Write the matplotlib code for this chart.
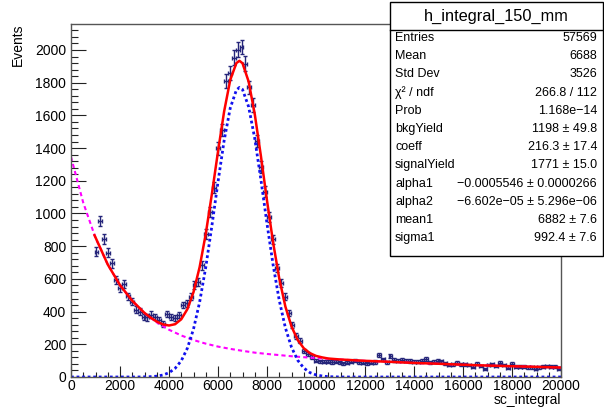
import numpy as np
import matplotlib
matplotlib.use('Agg')
import matplotlib.pyplot as plt
from matplotlib.patches import Rectangle
from matplotlib.lines import Line2D
from matplotlib.ticker import MultipleLocator

plt.rcParams['font.family'] = ['Liberation Sans', 'DejaVu Sans']

# histogram: 160-wide bins, fit range starts at 960
bin_width = 160
bin_centers = np.arange(1040, 20000, bin_width)
counts = [
    766, 953, 843, 760, 695, 593, 542, 569, 493, 461,
    412, 400, 365, 364, 382, 365, 351, 326, 384, 367,
    359, 379, 440, 450, 491, 563, 583, 683, 874, 1008,
    1159, 1398, 1510, 1812, 1857, 1954, 2002, 2018, 1917, 1771,
    1663, 1445, 1286, 1133, 978, 842, 665, 577, 491, 393,
    318, 251, 222, 161, 139, 124, 100, 96, 94, 94,
    92, 94, 90, 84, 88, 94, 100, 92, 86, 84,
    88, 92, 135, 108, 90, 128, 104, 100, 104, 100,
    98, 94, 94, 98, 110, 90, 94, 100, 96, 84,
    73, 77, 88, 77, 77, 73, 63, 80, 67, 47,
    73, 77, 67, 88, 73, 57, 80, 63, 63, 63,
    59, 59, 51, 59, 63, 67, 63, 63, 47,
]

# background component (magenta)
bkg_x = [0, 500, 1000, 1500, 2000, 2500, 3000, 3500, 4000, 4500, 5000,
         5500, 6000, 6500, 7000, 7500, 8000, 8500, 9000, 9500, 10000,
         11000, 12000, 13000, 14000, 15000, 16000, 17000, 18000, 19000, 20000]
bkg_y = [1346, 1066, 851, 688, 562, 466, 391, 334, 289, 254, 226,
         204, 186, 172, 160, 149, 141, 134, 127, 121, 116,
         107, 99, 93, 86, 81, 75, 70, 66, 62, 58]

# signal component (blue)
sig_x = [0, 2750, 3000, 3250, 3500, 3750, 4000, 4250, 4500, 4750, 5000,
         5250, 5500, 5750, 6000, 6250, 6500, 6750, 6875, 7000, 7250,
         7500, 7750, 8000, 8250, 8500, 8750, 9000, 9250, 9500, 9750,
         10000, 10250, 10500, 10750, 11000, 20000]
sig_y = [0, 0, 1, 2, 5, 12, 26, 53, 99, 176, 293,
         458, 671, 924, 1193, 1446, 1645, 1755, 1771, 1759, 1653,
         1459, 1208, 938, 685, 469, 301, 182, 103, 55, 27,
         13, 6, 2, 1, 0, 0]

# total fit (red)
fit_x = [960, 1500, 2000, 2500, 3000, 3250, 3500, 3750, 4000, 4250, 4500,
         4750, 5000, 5250, 5500, 5750, 6000, 6250, 6500, 6750, 6875,
         7000, 7250, 7500, 7750, 8000, 8250, 8500, 8750, 9000, 9250,
         9500, 9750, 10000, 10250, 10500, 11000, 12000, 13000, 14000,
         15000, 16000, 17000, 18000, 19000, 20000]
fit_y = [867, 688, 562, 466, 392, 363, 339, 322, 315, 323, 353,
         415, 519, 672, 875, 1119, 1379, 1624, 1817, 1920, 1934,
         1919, 1807, 1608, 1353, 1079, 822, 603, 431, 309, 227,
         176, 146, 129, 120, 113, 107, 99, 93, 86,
         81, 75, 70, 66, 62, 58]

stats_title = 'h_integral_150_mm'
stats_names = ['Entries', 'Mean', 'Std Dev', '\u03c7\u00b2 / ndf', 'Prob',
               'bkgYield', 'coeff', 'signalYield', 'alpha1', 'alpha2',
               'mean1', 'sigma1']
stats_values = ['57569', '6688', '3526', '266.8 / 112', '1.168e\u221214',
                '1198 \u00b1 49.8', '216.3 \u00b1 17.4', '1771 \u00b1 15.0',
                '\u22120.0005546 \u00b1 0.0000266',
                '\u22126.602e\u221205 \u00b1 5.296e\u221206',
                '6882 \u00b1 7.6', '992.4 \u00b1 7.6']

W, H = 604, 408
fig = plt.figure(figsize=(W / 100, H / 100), dpi=100)
ax = fig.add_axes([71 / W, 1 - 377 / H, 490 / W, 353 / H])

ax.errorbar(bin_centers, counts, xerr=bin_width / 2, yerr=np.sqrt(counts),
            fmt='none', ecolor='#25257a', elinewidth=1, capsize=1.5, capthick=1)
ax.plot(bkg_x, bkg_y, color='#ff00ff', lw=1.5, ls=(0, (2, 1.5)))
ax.plot(sig_x, sig_y, color='#1010ee', lw=2, ls=(0, (1, 1)))
ax.plot(fit_x, fit_y, color='#ff0000', lw=1.8)

ax.set_xlim(0, 20000)
ax.set_ylim(0, 2159)
ax.xaxis.set_major_locator(MultipleLocator(2000))
ax.xaxis.set_minor_locator(MultipleLocator(500))
ax.yaxis.set_major_locator(MultipleLocator(200))
ax.yaxis.set_minor_locator(MultipleLocator(40))
ax.tick_params(which='both', direction='in', top=False, right=False,
               labelsize=10, color='#222222', width=0.8)
ax.tick_params(axis='y', which='major', length=10.5)
ax.tick_params(axis='y', which='minor', length=5.3)
ax.tick_params(axis='x', which='major', length=7.6, pad=1.5)
ax.tick_params(axis='x', which='minor', length=3.8)
for sp in ax.spines.values():
    sp.set_color('#555555')
    sp.set_linewidth(1)

fig.text(18 / W, 1 - 23 / H, 'Events', rotation=90, ha='center', va='top', fontsize=10)
fig.text(561 / W, 1 - 407 / H, 'sc_integral', ha='right', va='bottom', fontsize=10)

# stats box
fig.add_artist(Rectangle((390 / W, 1 - 256 / H), 213 / W, 254 / H,
                         transform=fig.transFigure, facecolor='white',
                         edgecolor='black', lw=1, zorder=5))
fig.add_artist(Line2D([390 / W, 603 / W], [1 - 30 / H, 1 - 30 / H],
                      transform=fig.transFigure, color='black', lw=1, zorder=6))
fig.text(496 / W, 1 - 16 / H, stats_title, ha='center', va='center',
         fontsize=11.8, zorder=7)
for k, (name, val) in enumerate(zip(stats_names, stats_values)):
    y = 1 - (38 + 18.2 * k) / H
    fig.text(395 / W, y, name, ha='left', va='center', fontsize=9, zorder=7)
    fig.text(597 / W, y, val, ha='right', va='center', fontsize=9, zorder=7)

fig.savefig('out.png', dpi=100)
